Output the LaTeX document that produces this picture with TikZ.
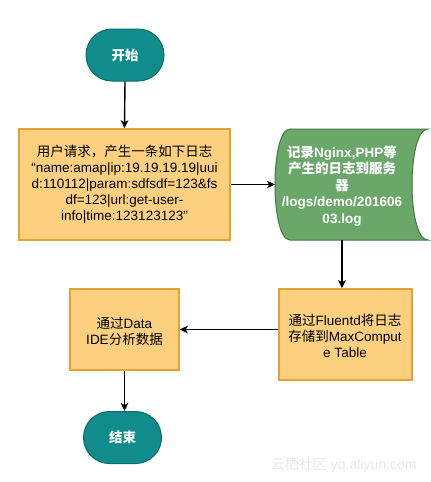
\documentclass[tikz,border=0pt]{standalone}
\usepackage{fontspec}
\setmainfont{Liberation Sans}
\newfontfamily\cjk{Noto Sans CJK SC}
\usetikzlibrary{arrows.meta,shapes.misc}
\newcommand{\zh}[1]{{\cjk #1}}
\definecolor{tealfill}{HTML}{108C8C}
\definecolor{tealdraw}{HTML}{0B6C6C}
\definecolor{orfill}{HTML}{FCD07F}
\definecolor{ordraw}{HTML}{E3A233}
\definecolor{grfill}{HTML}{6AA86A}
\definecolor{grdraw}{HTML}{3E7B3E}
\tikzset{
  term/.style={rounded rectangle, fill=tealfill, draw=tealdraw, line width=1pt,
    minimum width=78pt, minimum height=52pt, inner sep=0pt, text=white,
    font=\fontsize{13.5}{16}\selectfont\bfseries},
  procbox/.style={rectangle, fill=orfill, draw=ordraw, line width=1.5pt,
    inner sep=0pt, align=center, font=\fontsize{13.5}{16}\selectfont},
  storetxt/.style={align=center, text=white, inner sep=0pt,
    font=\fontsize{13.5}{16.5}\selectfont\bfseries},
  storeshape/.style={fill=grfill, draw=grdraw, line width=1pt},
  arr/.style={line width=1.4pt, -{Stealth[length=8pt,width=7.5pt,inset=2pt]}},
}
\begin{document}
\begin{tikzpicture}[x=1pt,y=-1pt]
\useasboundingbox (0,0) rectangle (431,482);
% terminals
\node[term] (start) at (125,55) {\zh{开始}};
\node[term] (end) at (122.5,437.5) {\zh{结束}};
% process boxes
\node[procbox, minimum width=211pt, minimum height=111pt] (box1) at (124.5,184.5)
  {\zh{用户请求，产生一条如下日志}\\“name:amap|ip:19.19.19.19|uui\\d:110112|param:sdfsdf=123\&fs\\df=123|url:get-user-\\info|time:123123123”};
\node[procbox, minimum width=109pt, minimum height=81pt] (box2) at (124.5,329.5) {};
\node[procbox, draw=none, fill=none] (box2txt) at (124.5,331) {\zh{通过}Data\\IDE\zh{分析数据}};
\node[procbox, minimum width=133pt, minimum height=91pt] (box3) at (345.5,334.5) {};
\node[procbox, draw=none, fill=none] (box3txt) at (345,336) {\zh{通过}Fluentd\zh{将日志}\\\zh{存储到}MaxComput\\e Table};
% stored data shape
\draw[storeshape] (290,129) -- (428,129) .. controls (406.7,129) and (406.7,240) .. (428,240)
  -- (290,240) .. controls (270,240) and (270,129) .. (290,129) -- cycle;
\coordinate (storeW) at (275,184.5);
\coordinate (storeS) at (342,240);
\node[storetxt] (storetext) at (342,186)
  {\zh{记录}Nginx,PHP\zh{等}\\\zh{产生的日志到服务}\\\zh{器}\\/logs/demo/201606\\03.log};
% connectors
\draw[arr] (start.south) -- (box1.north);
\draw[arr] (box1.east) -- (storeW);
\draw[arr] (storeS) -- (storeS |- box3.north);
\draw[arr] (box2.east -| box3.west) -- (box2.east);
\draw[arr] (box2.south) -- (box2.south |- end.north);
% watermark
\node[text=black!9, font=\fontsize{14}{16}\selectfont, anchor=east] (wm) at (420,465) {\zh{云栖社区} yq.aliyun.com};
\end{tikzpicture}
\end{document}
